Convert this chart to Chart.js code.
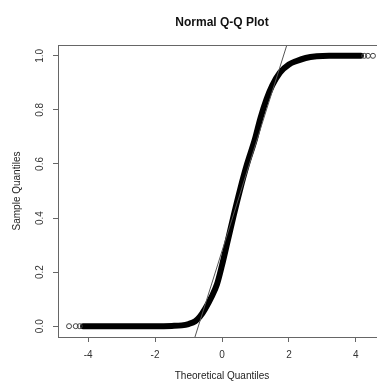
<!DOCTYPE html>
<html>
<head>
<meta charset="utf-8">
<script src="https://cdn.jsdelivr.net/npm/chart.js@4.4.1/dist/chart.umd.min.js"></script>
<style>
	html, body { margin: 0; padding: 0; background: #fff; overflow: hidden; }
	#wrap { width: 444px; height: 382px; }
</style>
</head>
<body>
<div id="wrap"><canvas id="qqChart" width="444" height="382"></canvas></div>
<script>
// dense band of points (theoretical vs sample quantiles)
const theoretical = [-4.15, -3.9, -3.5, -3.0, -2.5, -2.0, -1.5, -1.2, -1.0, -0.8, -0.66, -0.5, -0.31, -0.15, 0.0, 0.18, 0.35, 0.54, 0.75, 0.98, 1.15, 1.33, 1.5, 1.73, 2.0, 2.23, 2.5, 2.83, 3.2, 3.6, 3.9, 4.15]
const sample = [0, 0, 0, 0, 0, 0, 0.001, 0.003, 0.008, 0.018, 0.035, 0.065, 0.109, 0.155, 0.225, 0.32, 0.41, 0.505, 0.6, 0.69, 0.77, 0.839, 0.89, 0.938, 0.968, 0.981, 0.992, 0.998, 1.0, 1.0, 1.0, 1.0]

// single open circles at the two tails
const tailX = [-4.57, -4.37, -4.25, 4.25, 4.36, 4.51]
const tailY = [0, 0, 0, 1.0, 1.0, 1.0]

// qqline, two points on it
const lineX = [-1.5, 2.5]
const lineY = [-0.312, 1.261]

const xTicks = [-4, -2, 0, 2, 4]
const yTicks = [0, 0.2, 0.4, 0.6, 0.8, 1.0]

const toPoints = (xs, ys) => xs.map((x, i) => ({ x: x, y: ys[i] }))

Chart.defaults.font.family = "'Liberation Sans', Arial, Helvetica, sans-serif"
Chart.defaults.font.size = 10
Chart.defaults.color = '#333'

// R style box round the plot region
const boxPlugin = {
	id: 'box',
	afterDraw: chart => {
		const { ctx, chartArea } = chart
		ctx.save()
		ctx.strokeStyle = '#666'
		ctx.lineWidth = 1
		ctx.strokeRect(Math.round(chartArea.left) + 0.5, Math.round(chartArea.top) + 0.5, chartArea.right - chartArea.left, chartArea.bottom - chartArea.top)
		ctx.restore()
	},
}

const ctx = document.getElementById('qqChart').getContext('2d')
const qqChart = new Chart(ctx, {
	type: 'scatter',
	data: {
		datasets: [
			{
				label: 'qqline',
				type: 'line',
				data: toPoints(lineX, lineY),
				borderColor: '#555',
				borderWidth: 1,
				pointRadius: 0,
				fill: false,
			},
			{
				label: 'tails',
				data: toPoints(tailX, tailY),
				pointStyle: 'circle',
				pointRadius: 2.5,
				borderWidth: 1,
				borderColor: '#444',
				backgroundColor: 'rgba(0,0,0,0)',
			},
			{
				label: 'sample',
				type: 'line',
				data: toPoints(theoretical, sample),
				borderColor: '#000',
				borderWidth: 6,
				borderCapStyle: 'round',
				borderJoinStyle: 'round',
				cubicInterpolationMode: 'monotone',
				pointRadius: 0,
				fill: false,
			},
		],
	},
	options: {
		responsive: false,
		devicePixelRatio: 1,
		animation: false,
		layout: {
			padding: { left: 0, right: 58, top: 0, bottom: 0 },
		},
		plugins: {
			legend: { display: false },
			tooltip: { enabled: false },
			title: {
				display: true,
				fullSize: false,
				text: 'Normal Q-Q Plot',
				color: '#111',
				font: { size: 12, weight: 'bold' },
				padding: { top: 15, bottom: 15.6 },
			},
		},
		scales: {
			x: {
				type: 'linear',
				min: -4.9,
				max: 4.9,
				afterBuildTicks: scale => {
					scale.ticks = xTicks.map(v => ({ value: v }))
				},
				afterFit: scale => {
					scale.height = 45
				},
				ticks: {
					padding: 7,
					maxRotation: 0,
					callback: value => String(value),
				},
				grid: {
					drawOnChartArea: false,
					drawTicks: true,
					tickLength: 5,
					tickColor: '#666',
				},
				border: { display: false },
				title: {
					display: true,
					text: 'Theoretical Quantiles',
					color: '#222',
					font: { size: 10, lineHeight: 1 },
					padding: { top: 0, bottom: 1 },
				},
			},
			y: {
				type: 'linear',
				min: -0.04,
				max: 1.04,
				afterBuildTicks: scale => {
					scale.ticks = yTicks.map(v => ({ value: v }))
				},
				afterFit: scale => {
					scale.width = 58
				},
				ticks: {
					padding: 6,
					minRotation: 90,
					maxRotation: 90,
					crossAlign: 'center',
					callback: value => value.toFixed(1),
				},
				grid: {
					drawOnChartArea: false,
					drawTicks: true,
					tickLength: 5,
					tickColor: '#666',
				},
				border: { display: false },
				title: {
					display: true,
					text: 'Sample Quantiles',
					color: '#222',
					font: { size: 10 },
					padding: { top: 11, bottom: 0 },
				},
			},
		},
	},
	plugins: [boxPlugin],
})
</script>
</body>
</html>
